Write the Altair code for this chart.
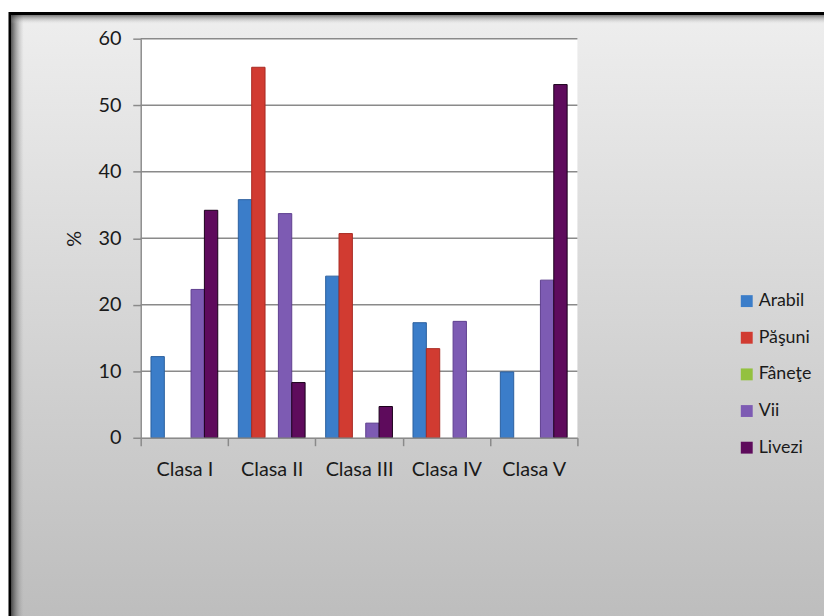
import altair as alt
import pandas as pd

classes = ["Clasa I", "Clasa II", "Clasa III", "Clasa IV", "Clasa V"]
series = ["Arabil", "Păşuni", "Fâneţe", "Vii", "Livezi"]
arabil = [12.2, 35.8, 24.3, 17.3, 9.9]
pasuni = [0, 55.7, 30.7, 13.4, 0]
fanete = [0, 0, 0, 0, 0]
vii = [22.3, 33.7, 2.2, 17.5, 23.7]
livezi = [34.2, 8.3, 4.7, 0, 53.1]
y_ticks = [0, 10, 20, 30, 40, 50, 60]
grid_vals = [10, 20, 30, 40, 50, 60]

colors = ["#3b7dc9", "#d13b31", "#93c13f", "#7d5bb3", "#5e0b5c"]
strokes = ["#2a5f9e", "#a82a22", "#6f9a2a", "#5e3f8f", "#1a001a"]

rows = []
for s, vals in zip(series, [arabil, pasuni, fanete, vii, livezi]):
    for c, v in zip(classes, vals):
        rows.append({"cls": c, "series": s, "val": v})
df = pd.DataFrame(rows)

W, H = 441, 403
PL, PT, PR, PB = 134, 28, 249, 177

font = "Lato"
txt = "#1a1a1a"

yaxis = alt.Axis(values=y_ticks, tickSize=8, labelPadding=12, grid=False,
                 titlePadding=14, zindex=1)
yscale = alt.Scale(domain=[0, 60], nice=False)

one = pd.DataFrame({"k": [0]})

bg = alt.Chart(one).mark_rect(
    fill=alt.LinearGradient(
        gradient="linear",
        stops=[alt.GradientStop(color="#eeeeee", offset=0),
               alt.GradientStop(color="#bcbcbc", offset=1)],
        x1=0, x2=0, y1=0, y2=1),
    stroke="#000000", strokeWidth=3, clip=False
).encode(x=alt.value(-PL + 2), x2=alt.value(W + PR + 20),
         y=alt.value(-PT + 2.5), y2=alt.value(H + PB + 20))

shadow_left = alt.Chart(one).mark_rect(
    fill=alt.LinearGradient(
        gradient="linear",
        stops=[alt.GradientStop(color="rgba(40,40,40,0.75)", offset=0),
               alt.GradientStop(color="rgba(160,160,160,0)", offset=1)],
        x1=0, x2=1, y1=0, y2=0),
    clip=False
).encode(x=alt.value(-PL + 3.5), x2=alt.value(-PL + 16),
         y=alt.value(-PT + 4), y2=alt.value(H + PB + 20))

shadow_top = alt.Chart(one).mark_rect(
    fill=alt.LinearGradient(
        gradient="linear",
        stops=[alt.GradientStop(color="rgba(40,40,40,0.6)", offset=0),
               alt.GradientStop(color="rgba(200,200,200,0)", offset=1)],
        x1=0, x2=0, y1=0, y2=1),
    clip=False
).encode(x=alt.value(-PL + 3.5), x2=alt.value(W + PR + 20),
         y=alt.value(-PT + 4), y2=alt.value(-PT + 13))

plotbg = alt.Chart(one).mark_rect(fill="#ffffff").encode(
    x=alt.value(0), x2=alt.value(W), y=alt.value(0), y2=alt.value(H))

grid = alt.Chart(pd.DataFrame({"val": grid_vals})).mark_rule(
    color="#8a8a8a", strokeWidth=1.5).encode(
    y=alt.Y("val:Q", title="%", scale=yscale, axis=yaxis))

bars = alt.Chart(df).transform_filter("datum.val > 0").mark_bar(strokeWidth=1).encode(
    x=alt.X("cls:N", sort=classes, title=None,
            scale=alt.Scale(paddingInner=0, paddingOuter=0),
            axis=alt.Axis(labelAngle=0, tickBand="extent", tickSize=8,
                          labelPadding=14, grid=False, zindex=1)),
    xOffset=alt.XOffset("series:N", sort=series,
                        scale=alt.Scale(domain=series, paddingInner=0, paddingOuter=0.77)),
    y=alt.Y("val:Q", title="%", scale=yscale, axis=yaxis),
    color=alt.Color("series:N", title=None,
                    scale=alt.Scale(domain=series, range=colors),
                    legend=alt.Legend(orient="none", legendX=603, legendY=256,
                                      symbolType="square", symbolSize=144,
                                      symbolStrokeWidth=0, rowPadding=19,
                                      labelOffset=3)),
    stroke=alt.Stroke("series:N", scale=alt.Scale(domain=series, range=strokes),
                      legend=None),
)

chart = alt.layer(bg, shadow_left, shadow_top, plotbg, grid, bars).properties(
    width=W, height=H,
    padding={"left": PL, "top": PT, "right": PR, "bottom": PB},
    autosize=alt.AutoSizeParams(type="none"),
    background="#ffffff",
).configure_view(stroke=None).configure_axis(
    labelFont=font, labelFontSize=20, labelColor=txt,
    titleFont=font, titleFontSize=20, titleColor=txt, titleFontWeight="normal",
    domainColor="#8a8a8a", tickColor="#8a8a8a", domainWidth=1.5, tickWidth=1.5,
).configure_legend(
    labelFont=font, labelFontSize=18, labelColor=txt,
)

chart.save("out.html", embed_options={"renderer": "svg", "actions": False})
